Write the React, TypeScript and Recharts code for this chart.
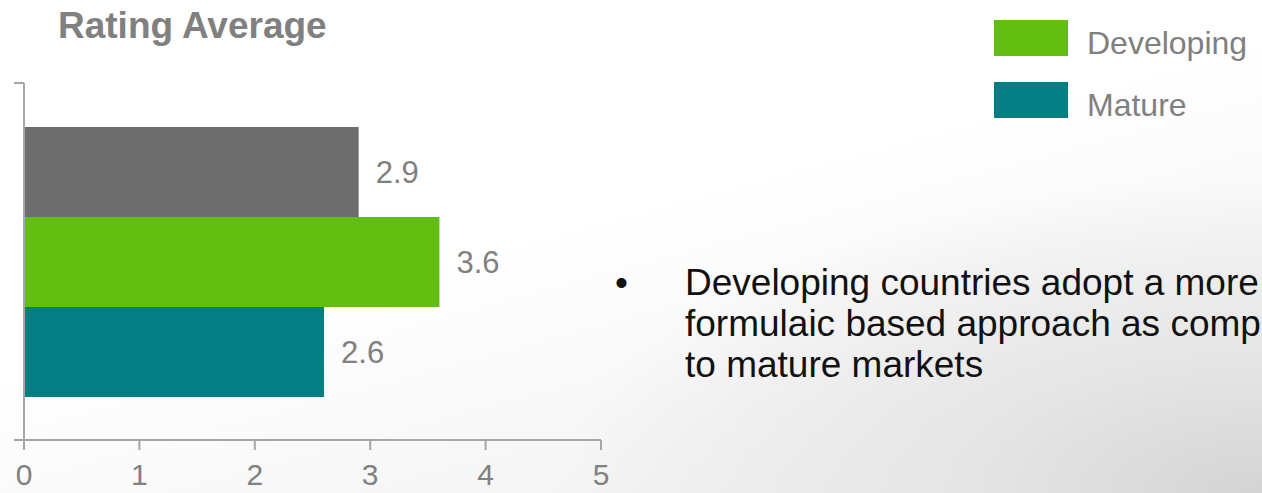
import React from 'react';
import { BarChart, Bar, XAxis, YAxis, Legend, LabelList } from 'recharts';

// values
const categories = ['Rating Average'];
const overallValues = [2.9];
const developingValues = [3.6];
const matureValues = [2.6];
const xTicks = [0, 1, 2, 3, 4, 5];
const bulletLines = [
  'Developing countries adopt a more',
  'formulaic based approach as compared',
  'to mature markets',
];

const data = categories.map((name, i) => ({
  name,
  overall: overallValues[i],
  developing: developingValues[i],
  mature: matureValues[i],
}));

const FONT = 'Arial, "Liberation Sans", Helvetica, sans-serif';
const AXIS = '#a6a6a6';
const LABEL = '#808080';

// short ticks at the top and bottom edge of the category band
function BandTick(props: any) {
  const { x, y, payload } = props;
  const half = payload && payload.offset ? payload.offset : 178.5;
  return (
    <g>
      <line x1={x - 10} x2={x} y1={y - half} y2={y - half} stroke={AXIS} strokeWidth={2} />
      <line x1={x - 10} x2={x} y1={y + half} y2={y + half} stroke={AXIS} strokeWidth={2} />
    </g>
  );
}

function LegendContent(props: any) {
  const { payload } = props;
  const items = (payload || []).filter((entry: any) => entry.type !== 'none' && entry.value !== 'Overall');
  return (
    <div style={{ fontFamily: FONT }}>
      {items.map((entry: any) => (
        <div key={entry.value} style={{ display: 'flex', alignItems: 'center', height: 36, marginBottom: 26 }}>
          <div style={{ width: 74, height: 36, background: entry.color }} />
          <span style={{ marginLeft: 19, marginTop: 10, fontSize: 32, color: LABEL }}>{entry.value}</span>
        </div>
      ))}
    </div>
  );
}

export default function App() {
  return (
    <div
      style={{
        position: 'absolute',
        left: 0,
        top: 0,
        width: 1262,
        height: 493,
        overflow: 'hidden',
        background:
          'radial-gradient(ellipse 70% 80% at 100% 100%, #d4d4d4 0%, #e6e6e6 35%, rgba(255,255,255,0) 80%), linear-gradient(165deg, #ffffff 45%, #eeeeee 100%)',
        fontFamily: FONT,
      }}
    >
      <div
        style={{
          position: 'absolute',
          left: 58,
          top: 5,
          fontSize: 37,
          fontWeight: 'bold',
          color: LABEL,
          whiteSpace: 'nowrap',
        }}
      >
        Rating Average
      </div>

      <BarChart
        width={1262}
        height={493}
        data={data}
        layout="vertical"
        margin={{ top: 83, right: 661, bottom: 0, left: 23 }}
        barCategoryGap={44}
        barGap={0}
        style={{ position: 'absolute', left: 0, top: 0 }}
      >
        <XAxis
          type="number"
          domain={[0, 5]}
          ticks={xTicks}
          interval={0}
          height={53}
          tickSize={10}
          tickMargin={14}
          axisLine={{ stroke: AXIS, strokeWidth: 2 }}
          tickLine={{ stroke: AXIS, strokeWidth: 2 }}
          tick={{ fill: LABEL, fontSize: 30, fontFamily: FONT }}
        />
        <YAxis
          type="category"
          dataKey="name"
          width={1}
          tickSize={0}
          tickMargin={0}
          tickLine={false}
          axisLine={{ stroke: AXIS, strokeWidth: 2 }}
          tick={<BandTick />}
        />
        <Legend
          layout="vertical"
          align="center"
          verticalAlign="middle"
          wrapperStyle={{ left: 994, top: 20, width: 268 }}
          content={<LegendContent />}
        />
        <Bar dataKey="overall" name="Overall" fill="#6d6d6d" legendType="none" isAnimationActive={false}>
          <LabelList dataKey="overall" position="right" offset={17} fill={LABEL} fontSize={31} fontFamily={FONT} />
        </Bar>
        <Bar dataKey="developing" name="Developing" fill="#62be10" isAnimationActive={false}>
          <LabelList dataKey="developing" position="right" offset={17} fill={LABEL} fontSize={31} fontFamily={FONT} />
        </Bar>
        <Bar dataKey="mature" name="Mature" fill="#037f84" isAnimationActive={false}>
          <LabelList dataKey="mature" position="right" offset={17} fill={LABEL} fontSize={31} fontFamily={FONT} />
        </Bar>
      </BarChart>

      <div
        style={{
          position: 'absolute',
          left: 615,
          top: 262,
          fontSize: 37,
          lineHeight: '41px',
          color: '#111',
          whiteSpace: 'nowrap',
          display: 'flex',
        }}
      >
        <div style={{ width: 70 }}>•</div>
        <div>
          {bulletLines.map((line) => (
            <div key={line}>{line}</div>
          ))}
        </div>
      </div>
    </div>
  );
}
